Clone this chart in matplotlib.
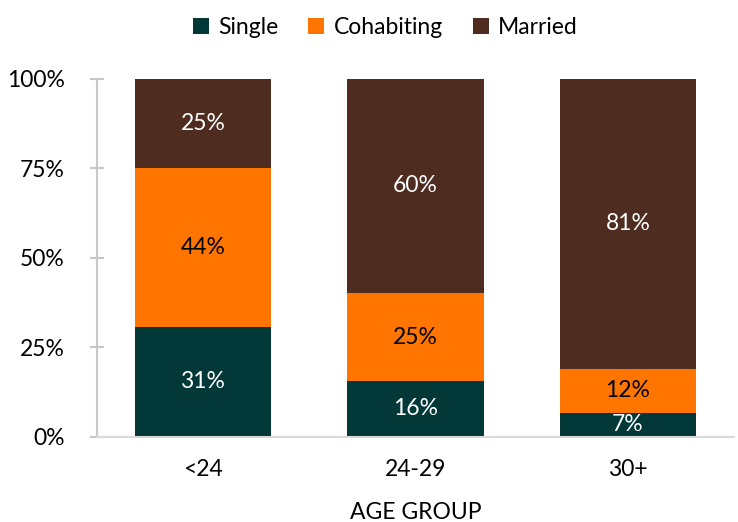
import matplotlib.pyplot as plt
import numpy as np

plt.rcParams['font.family'] = ['Lato', 'DejaVu Sans']

groups = ["<24", "24-29", "30+"]
single = np.array([30.8, 15.6, 6.8])
cohabiting = np.array([44.4, 24.6, 12.2])
married = np.array([24.8, 59.8, 81.0])

series = [("Single", single, "#023838", "white"),
          ("Cohabiting", cohabiting, "#FF7500", "black"),
          ("Married", married, "#4F2C20", "white")]

fig = plt.figure(figsize=(7.38, 5.22), dpi=100)
ax = fig.add_axes([0.131, 0.163, 0.864, 0.686])

x = np.arange(len(groups))
bottom = np.zeros(len(groups))
for name, vals, color, tcolor in series:
    ax.bar(x, vals, width=0.64, bottom=bottom, color=color, label=name)
    for xi, b, v in zip(x, bottom, vals):
        ax.text(xi, b + v / 2, f"{round(v)}%", ha="center", va="center",
                color=tcolor, fontsize=16.5)
    bottom += vals

ax.set_xlim(-0.5, 2.5)
ax.set_ylim(0, 100)
ax.set_yticks([0, 25, 50, 75, 100])
ax.set_yticklabels(["0%", "25%", "50%", "75%", "100%"])
ax.set_xticks(x)
ax.set_xticklabels(groups)
ax.tick_params(axis="y", direction="inout", length=10, width=1.5,
               color="#c8c8c8", labelsize=16.5, pad=18)
ax.tick_params(axis="x", length=0, labelsize=16.5, pad=16)
ax.spines["top"].set_visible(False)
ax.spines["right"].set_visible(False)
ax.spines["left"].set_color("#c8c8c8")
ax.spines["left"].set_linewidth(1.5)
ax.spines["bottom"].set_color("#d9d9d9")
ax.spines["bottom"].set_linewidth(1.5)
ax.set_xlabel("AGE GROUP", fontsize=16.5, labelpad=16)

fig.legend(loc="upper center", bbox_to_anchor=(0.522, 1.006), ncol=3,
           frameon=False, fontsize=16.5, handlelength=0.7, handleheight=0.7,
           handletextpad=0.4, columnspacing=1.3)

fig.savefig("out.png", dpi=100)
